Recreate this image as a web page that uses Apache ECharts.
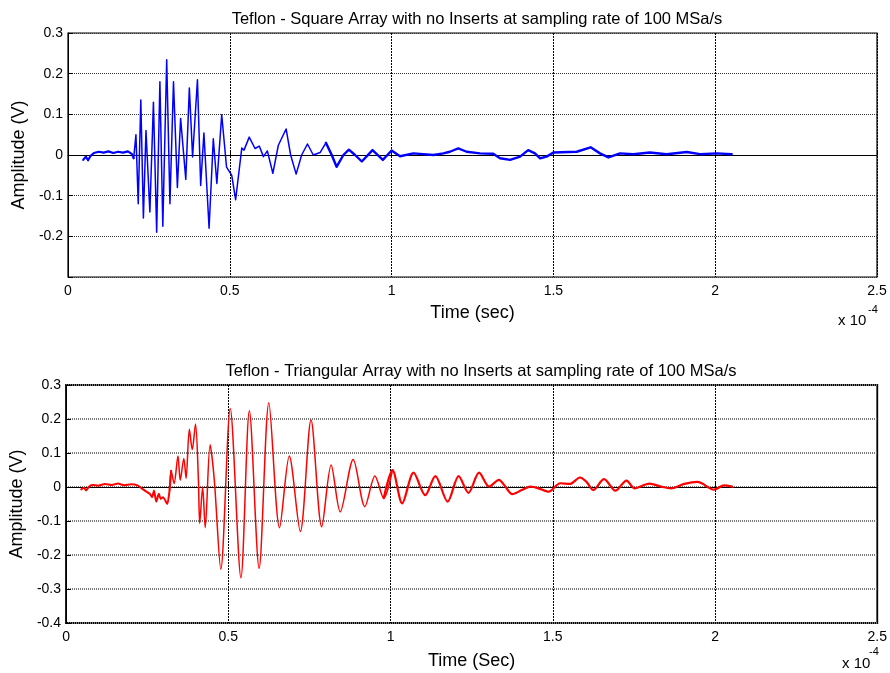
<html>
	<head>
		<meta charset="utf-8" />
		<title>Teflon arrays</title>
		<script src="https://cdn.jsdelivr.net/npm/echarts@6/dist/echarts.min.js"></script>
		<style>
			body {
				margin: 0;
				background: #fff;
			}
			#chart {
				width: 890px;
				height: 673px;
			}
		</style>
	</head>

	<body>
		<div id="chart"></div>
		<script type="text/javascript">
			// time in units of 1e-4 s, amplitude in V
			var squareTime = [0.047, 0.055, 0.062, 0.070, 0.080, 0.095, 0.110, 0.125, 0.140, 0.155, 0.170, 0.185, 0.198, 0.203,
				0.210, 0.217, 0.225, 0.233, 0.241, 0.253, 0.264, 0.274, 0.284, 0.293, 0.305, 0.315, 0.326, 0.338, 0.348, 0.364,
				0.375, 0.385, 0.400, 0.410, 0.420, 0.436, 0.449, 0.460, 0.475, 0.490, 0.506, 0.518, 0.537, 0.544, 0.560, 0.578,
				0.591, 0.604, 0.616, 0.633, 0.650, 0.674, 0.688, 0.705, 0.722, 0.740, 0.758, 0.779, 0.797, 0.815, 0.830, 0.851,
				0.868, 0.887, 0.908, 0.941, 0.973, 1.000, 1.026, 1.067, 1.129, 1.160, 1.180, 1.206, 1.232, 1.273, 1.314, 1.335,
				1.366, 1.397, 1.422, 1.443, 1.459, 1.479, 1.500, 1.572, 1.615, 1.644, 1.670, 1.706, 1.747, 1.798, 1.850, 1.912,
				1.953, 2.005, 2.051];
			var squareAmp = [-0.012, -0.004, -0.013, -0.002, 0.005, 0.008, 0.006, 0.009, 0.005, 0.008, 0.006, 0.009, 0.002, -0.008,
				0.05, -0.12, 0.135, -0.155, 0.06, -0.14, 0.13, -0.19, 0.18, -0.175, 0.234, -0.12, 0.18, -0.08, 0.09, -0.06,
				0.165, -0.005, 0.185, -0.075, 0.054, -0.18, 0.04, -0.07, 0.099, -0.03, -0.05, -0.11, 0.017, 0.012, 0.044, 0.016,
				0.022, -0.004, 0.01, -0.045, 0.024, 0.064, 0.0, -0.047, 0.0, 0.027, 0.0, 0.006, 0.03, 0.0, -0.029, 0.0,
				0.013, 0.0, -0.016, 0.012, -0.012, 0.011, -0.003, 0.004, 0.0, 0.004, 0.008, 0.016, 0.008, 0.004, 0.003, -0.008,
				-0.012, -0.004, 0.012, 0.004, -0.008, -0.004, 0.006, 0.008, 0.019, 0.004, -0.006, 0.004, 0.002, 0.006, 0.002, 0.0075,
				0.002, 0.004, 0.002];

			var triTime = [0.047, 0.055, 0.062, 0.070, 0.080, 0.100, 0.120, 0.141, 0.160, 0.180, 0.200, 0.222, 0.233, 0.245,
				0.258, 0.265, 0.271, 0.278, 0.286, 0.292, 0.299, 0.312, 0.319, 0.324, 0.333, 0.345, 0.352, 0.363, 0.370, 0.380,
				0.389, 0.399, 0.408, 0.412, 0.421, 0.429, 0.444, 0.457, 0.477, 0.506, 0.539, 0.565, 0.595, 0.625, 0.658, 0.688,
				0.722, 0.755, 0.788, 0.817, 0.845, 0.885, 0.921, 0.952, 0.979, 1.006, 1.036, 1.071, 1.107, 1.138, 1.176, 1.210,
				1.240, 1.273, 1.304, 1.334, 1.354, 1.375, 1.405, 1.431, 1.456, 1.487, 1.523, 1.553, 1.584, 1.604, 1.625, 1.658,
				1.693, 1.727, 1.752, 1.798, 1.834, 1.864, 1.905, 1.946, 1.997, 2.028, 2.053];
			var triAmp = [-0.007, -0.002, -0.01, 0.0, 0.006, 0.004, 0.009, 0.006, 0.010, 0.005, 0.008, 0.004, -0.004, -0.012,
				-0.02, -0.03, -0.01, -0.043, -0.02, -0.035, -0.03, -0.05, -0.01, 0.048, 0.01, 0.091, 0.02, 0.084, 0.025, 0.17,
				0.11, 0.185, 0.02, -0.107, 0.0, -0.12, 0.124, 0.02, -0.242, 0.231, -0.267, 0.224, -0.239, 0.248, -0.12, 0.091,
				-0.131, 0.197, -0.117, 0.065, -0.073, 0.081, -0.058, 0.032, -0.033, 0.05, -0.048, 0.042, -0.024, 0.032, -0.043, 0.032,
				-0.017, 0.042, 0.001, 0.021, 0.001, -0.021, -0.009, 0.001, -0.004, -0.014, 0.011, 0.009, 0.028, 0.015, -0.009, 0.023,
				-0.011, 0.019, -0.004, 0.01, 0.001, -0.004, 0.009, 0.015, -0.008, 0.005, 0.001];

			var titles = ['Teflon - Square Array with no Inserts at sampling rate of 100 MSa/s',
				'Teflon - Triangular Array with no Inserts at sampling rate of 100 MSa/s'];
			var xNames = ['Time (sec)', 'Time (Sec)'];
			var yRanges = [[-0.3, 0.3], [-0.4, 0.3]];
			// where the trace turns from a clean oscillation into a noisy band
			var squareCalm = [0.203, 0.80];
			var triCalm = [0.32, 1.0];

			// points between lo and hi, plus one neighbour on each side so the pieces join
			function pairs(t, a, lo, hi) {
				var first = 0, last = t.length - 1;
				while(first < t.length - 1 && t[first + 1] <= lo) first++;
				while(last > 0 && t[last - 1] >= hi) last--;
				var out = [];
				for(var i = first; i <= last; i++) {
					out.push([t[i], a[i]]);
				}
				return out;
			}

			var font = 'Liberation Sans, Arial, sans-serif';

			function xAxisFor(i, gap) {
				return {
					gridIndex: i,
					type: 'value',
					min: 0,
					max: 2.5,
					interval: 0.5,
					name: xNames[i],
					nameLocation: 'middle',
					nameGap: gap,
					nameTextStyle: { fontFamily: font, fontSize: 18, color: '#000' },
					axisLine: { show: true, lineStyle: { color: '#000', width: 1 } },
					axisTick: { inside: true, length: 5, lineStyle: { color: '#000' } },
					axisLabel: { fontFamily: font, fontSize: 14, color: '#000', margin: 7 },
					splitLine: { show: true, lineStyle: { color: '#000', width: 1, type: [2, 1] } }
				};
			}

			function yAxisFor(i, gap, gridColor, gridWidth) {
				return {
					gridIndex: i,
					type: 'value',
					min: yRanges[i][0],
					max: yRanges[i][1],
					interval: 0.1,
					name: 'Amplitude (V)',
					nameLocation: 'middle',
					nameGap: gap,
					nameTextStyle: { fontFamily: font, fontSize: 18, color: '#000' },
					axisLine: { show: true, lineStyle: { color: '#000', width: 1 } },
					axisTick: { inside: true, length: 5, lineStyle: { color: '#000' } },
					axisLabel: {
						fontFamily: font, fontSize: 14, color: '#000', margin: 5,
						formatter: function(v) {
							// top plot hides its lowest label
							if(i === 0 && v < -0.25) return '';
							return String(Math.round(v * 10) / 10);
						}
					},
					splitLine: { show: true, lineStyle: { color: gridColor, width: gridWidth, type: [1, 1] } }
				};
			}

			function trace(i, data, color, width, smooth) {
				return {
					type: 'line',
					xAxisIndex: i,
					yAxisIndex: i,
					showSymbol: false,
					smooth: smooth,
					data: data,
					lineStyle: { color: color, width: width, join: 'round', cap: 'round' }
				};
			}

			var myChart = echarts.init(document.getElementById('chart'));
			var option = {
				animation: false,
				backgroundColor: '#fff',
				title: [{
					text: titles[0], left: 472, top: 6, textAlign: 'center',
					textStyle: { fontFamily: font, fontSize: 16.5, fontWeight: 'normal', color: '#000' }
				}, {
					text: titles[1], left: 476, top: 358, textAlign: 'center',
					textStyle: { fontFamily: font, fontSize: 16.5, fontWeight: 'normal', color: '#000' }
				}],
				grid: [
					{ left: 68, top: 33, width: 809, height: 244, show: true, borderColor: '#000', borderWidth: 1.2 },
					{ left: 64, top: 385, width: 817, height: 238, show: true, borderColor: '#000', borderWidth: 1.8 }
				],
				xAxis: [xAxisFor(0, 27), xAxisFor(1, 29)],
				yAxis: [yAxisFor(0, 38, '#333', 1), yAxisFor(1, 38, '#777', 2)],
				series: [
					trace(0, pairs(squareTime, squareAmp, 0, squareCalm[0]), '#0000ff', 2.2, false),
					trace(0, pairs(squareTime, squareAmp, squareCalm[0], squareCalm[1]), '#0000ff', 1.5, false),
					trace(0, pairs(squareTime, squareAmp, squareCalm[1], 3), '#0000ff', 2.4, false),
					trace(1, pairs(triTime, triAmp, 0, triCalm[0]), '#ff0000', 2, 0.2),
					trace(1, pairs(triTime, triAmp, triCalm[0], triCalm[1]), '#ff0000', 1.5, 0.3),
					trace(1, pairs(triTime, triAmp, triCalm[1], 3), '#ff0000', 2.2, 0.3)
				],
				graphic: [
					{ type: 'text', left: 838, top: 313, style: { text: 'x 10', font: '15px ' + font, fill: '#000' } },
					{ type: 'text', left: 868, top: 304, style: { text: '-4', font: '11px ' + font, fill: '#000' } },
					{ type: 'text', left: 842, top: 656, style: { text: 'x 10', font: '15px ' + font, fill: '#000' } },
					{ type: 'text', left: 869, top: 646, style: { text: '-4', font: '11px ' + font, fill: '#000' } }
				]
			};
			myChart.setOption(option);
		</script>
	</body>

</html>
